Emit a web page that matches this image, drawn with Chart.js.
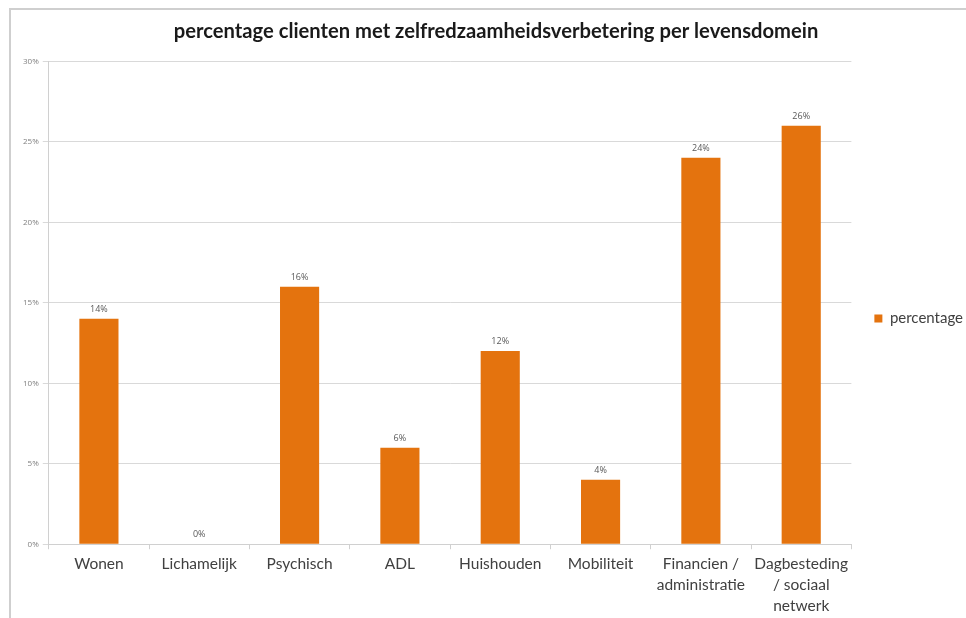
<!DOCTYPE html>
<html>
<head>
<meta charset="utf-8">
<script src="https://cdn.jsdelivr.net/npm/chart.js@4.4.1/dist/chart.umd.min.js"></script>
<style>
    html, body { margin: 0; padding: 0; background: #ffffff; overflow: hidden; }
    #frame {
        position: absolute;
        left: 9px;
        top: 8px;
        width: 980px;
        height: 620px;
        border-left: 2px solid #cfcfcf;
        border-top: 2px solid #cfcfcf;
    }
    #wrap { position: absolute; left: 2px; top: 2px; width: 964px; height: 608px; }
</style>
</head>
<body>
<div id="frame">
    <div id="wrap"><canvas id="domeinChart"></canvas></div>
</div>
<script>
// levensdomeinen en percentages
const categories = [
    "Wonen",
    "Lichamelijk",
    "Psychisch",
    "ADL",
    "Huishouden",
    "Mobiliteit",
    ["Financien /", "administratie"],
    ["Dagbesteding", "/ sociaal", "netwerk"]
];
const percentages = [14, 0, 16, 6, 12, 4, 24, 26];
const yTicks = [0, 5, 10, 15, 20, 25, 30];

const barColor = "#E4730E";

// waarde boven elke staaf
const valueLabels = {
    id: "valueLabels",
    afterDatasetsDraw(chart) {
        const ctx = chart.ctx;
        const meta = chart.getDatasetMeta(0);
        ctx.save();
        ctx.font = "9px 'Open Sans', sans-serif";
        ctx.fillStyle = "#595959";
        ctx.textAlign = "center";
        ctx.textBaseline = "bottom";
        meta.data.forEach((bar, i) => {
            ctx.fillText(percentages[i] + "%", bar.x, bar.y - 5);
        });
        ctx.restore();
    }
};

new Chart(document.getElementById("domeinChart"), {
    type: "bar",
    data: {
        labels: categories,
        datasets: [{
            label: "percentage",
            data: percentages,
            backgroundColor: barColor,
            borderWidth: 0,
            categoryPercentage: 1.0,
            barPercentage: 0.39
        }]
    },
    options: {
        responsive: true,
        maintainAspectRatio: false,
        animation: false,
        layout: { padding: { left: 6, right: 4, top: 5, bottom: 0 } },
        scales: {
            x: {
                grid: {
                    offset: true,
                    drawOnChartArea: false,
                    drawTicks: true,
                    tickLength: 5,
                    color: "#d0d0d0"
                },
                border: { color: "#d0d0d0" },
                ticks: {
                    color: "#404040",
                    font: { family: "Lato", size: 15.5, lineHeight: 1.35 },
                    maxRotation: 0,
                    autoSkip: false,
                    padding: 4
                }
            },
            y: {
                min: 0,
                max: 30,
                afterBuildTicks(axis) {
                    axis.ticks = yTicks.map(v => ({ value: v }));
                },
                grid: { color: "#d9d9d9", drawTicks: true, tickLength: 6 },
                border: { color: "#d0d0d0" },
                ticks: {
                    color: "#7f7f7f",
                    font: { family: "Open Sans", size: 8 },
                    padding: 4,
                    callback: v => v + "%"
                }
            }
        },
        plugins: {
            title: {
                display: true,
                text: "percentage clienten met zelfredzaamheidsverbetering per levensdomein",
                color: "#1a1a1a",
                font: { family: "Lato", size: 20.2, weight: "bold" },
                padding: { top: 2, bottom: 18 }
            },
            legend: {
                position: "right",
                labels: {
                    boxWidth: 8,
                    boxHeight: 8,
                    padding: 23,
                    color: "#404040",
                    font: { family: "Lato", size: 15 }
                }
            },
            tooltip: { enabled: false }
        }
    },
    plugins: [valueLabels]
});
</script>
</body>
</html>
